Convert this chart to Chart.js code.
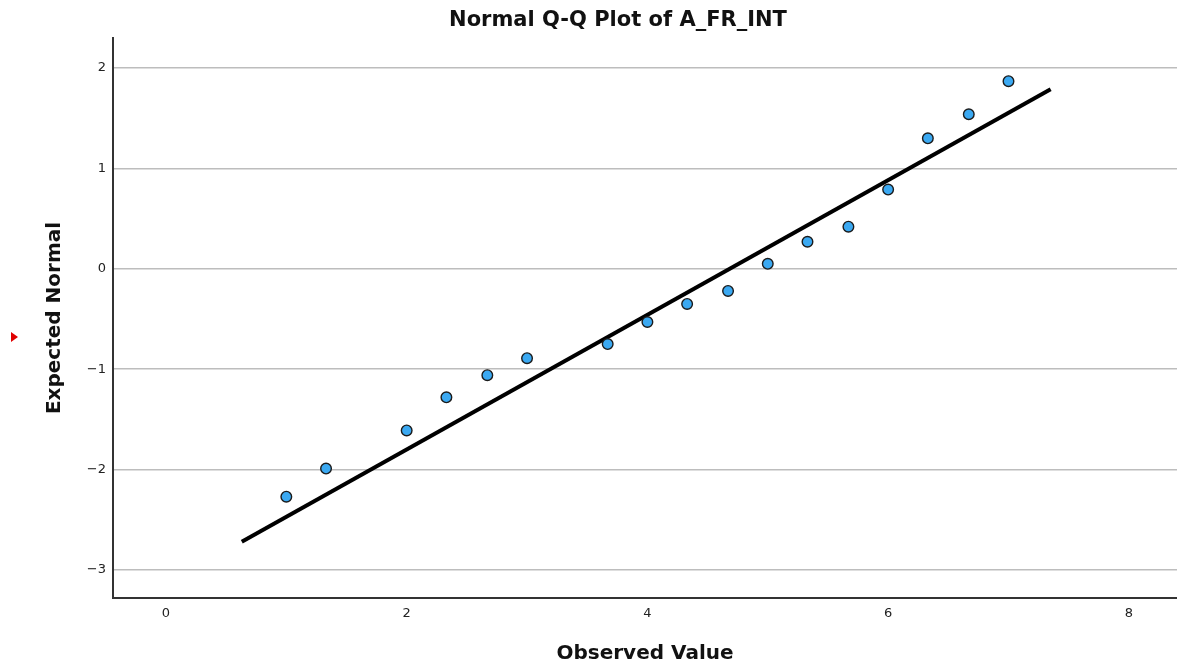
<!DOCTYPE html>
<html>
<head>
<meta charset="utf-8">
<script src="https://cdn.jsdelivr.net/npm/chart.js@4.4.1/dist/chart.umd.min.js"></script>
<style>
  html, body { margin: 0; padding: 0; background: #ffffff; }
  #wrap { width: 1177px; height: 668px; position: relative; }
</style>
</head>
<body>
<div id="wrap"><canvas id="c" width="1177" height="668"></canvas></div>
<script>
// ---- data ----
const chartTitle = "Normal Q-Q Plot of A_FR_INT";
const xAxisTitle = "Observed Value";
const yAxisTitle = "Expected Normal";
const observedValues = [1, 1.33, 2, 2.33, 2.67, 3, 3.67, 4, 4.33, 4.67, 5, 5.33, 5.67, 6, 6.33, 6.67, 7];
const expectedNormal = [-2.27, -1.99, -1.61, -1.28, -1.06, -0.89, -0.75, -0.53, -0.35, -0.22, 0.05, 0.27, 0.42, 0.79, 1.30, 1.54, 1.87];
const refLineX = [0.63, 7.35];
const refLineY = [-2.72, 1.79];
const xTicks = [0, 2, 4, 6, 8];
const yTicks = [-3, -2, -1, 0, 1, 2];

const FONT = "'DejaVu Sans', 'Open Sans', sans-serif";

const pts = observedValues.map((x, i) => ({ x: x, y: expectedNormal[i] }));
const linePts = refLineX.map((x, i) => ({ x: x, y: refLineY[i] }));

const overlay = {
  id: 'overlay',
  afterDraw(chart) {
    const ctx = chart.ctx;
    const ca = chart.chartArea;
    ctx.save();
    ctx.fillStyle = '#111';
    ctx.font = "bold 21px " + FONT;
    ctx.textAlign = 'center';
    ctx.textBaseline = 'middle';
    ctx.fillText(chartTitle, (ca.left + ca.right) / 2 - 27, 21);
    // small red marker at left edge
    ctx.fillStyle = '#e00000';
    ctx.beginPath();
    ctx.moveTo(11, 332);
    ctx.lineTo(18, 337);
    ctx.lineTo(11, 342);
    ctx.closePath();
    ctx.fill();
    ctx.restore();
  }
};

new Chart(document.getElementById('c'), {
  type: 'scatter',
  data: {
    datasets: [
      {
        type: 'line',
        data: linePts,
        borderColor: '#000000',
        borderWidth: 4,
        pointRadius: 0,
        fill: false,
        order: 2
      },
      {
        type: 'scatter',
        data: pts,
        backgroundColor: '#3ba9f2',
        borderColor: '#1b1b1b',
        borderWidth: 1.4,
        pointRadius: 5.3,
        order: 1
      }
    ]
  },
  options: {
    responsive: false,
    animation: false,
    layout: { autoPadding: false, padding: { top: 38, left: 0, right: 0, bottom: 0 } },
    plugins: {
      legend: { display: false },
      tooltip: { enabled: false },
      title: { display: false }
    },
    scales: {
      x: {
        type: 'linear',
        min: -0.44,
        max: 8.40,
        afterBuildTicks: (s) => { s.ticks = xTicks.map(v => ({ value: v })); },
        afterFit: (s) => { s.height = 70; s.paddingLeft = 0; s.paddingRight = 0; },
        grid: { display: false, drawTicks: false },
        border: { display: true, color: '#333333', width: 2 },
        ticks: { font: { family: FONT, size: 13 }, color: '#222', padding: 8, maxRotation: 0 },
        title: {
          display: true,
          text: xAxisTitle,
          font: { family: FONT, size: 20, weight: 'bold' },
          color: '#111',
          padding: { top: 0, bottom: 2 }
        }
      },
      y: {
        type: 'linear',
        min: -3.28,
        max: 2.30,
        afterBuildTicks: (s) => { s.ticks = yTicks.map(v => ({ value: v })); },
        afterFit: (s) => { s.width = 113; s.paddingTop = 0; s.paddingBottom = 0; },
        grid: { display: true, drawTicks: false, color: '#bdbdbd', lineWidth: 1.5 },
        border: { display: true, color: '#333333', width: 2 },
        ticks: {
          font: { family: FONT, size: 13 },
          color: '#222',
          padding: 7,
          callback: (v) => (v < 0 ? '\u2212' + Math.abs(v) : String(v))
        },
        title: {
          display: true,
          text: yAxisTitle,
          font: { family: FONT, size: 20, weight: 'bold' },
          color: '#111',
          padding: { top: 43, bottom: 0 }
        }
      }
    }
  },
  plugins: [overlay]
});
</script>
</body>
</html>
